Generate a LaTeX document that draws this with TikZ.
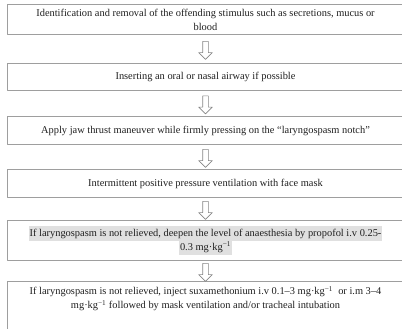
\documentclass[tikz,border=0pt]{standalone}
\usepackage{fontspec}
\setmainfont{Liberation Serif}
\usetikzlibrary{shapes.arrows,calc}
\definecolor{boxline}{gray}{0.62}
\definecolor{hlgray}{gray}{0.88}
\definecolor{txt}{gray}{0.12}
\newcommand{\hl}[1]{{\setlength{\fboxsep}{0.6pt}\colorbox{hlgray}{\strut #1}}}
\begin{document}
\begin{tikzpicture}[x=1pt,y=-1pt,line join=round,
	font=\fontsize{10.4}{14}\selectfont,text=txt,
	stepbox/.style={draw=boxline,line width=1pt,anchor=north west,minimum width=396pt,inner sep=0pt,align=center},
	downarr/.style={draw=boxline!85!black,line width=0.6pt,single arrow,shape border rotate=270,minimum height=18pt,minimum width=13pt,single arrow head extend=4pt,inner sep=2.5pt}]
	\useasboundingbox (0,0) rectangle (402,329);
	\node[stepbox,minimum height=30pt] (s1) at (7,4) {Identification and removal of the offending stimulus such as secretions, mucus or\\blood};
	\node[stepbox,minimum height=27pt] (s2) at (7,63) {Inserting an oral or nasal airway if possible};
	\node[stepbox,minimum height=28pt] (s3) at (7,116) {Apply jaw thrust maneuver while firmly pressing on the “laryngospasm notch”};
	\node[stepbox,minimum height=28pt] (s4) at (7,169) {Intermittent positive pressure ventilation with face mask};
	\node[stepbox,minimum height=40pt] (s5) at (7,220) {\hl{If laryngospasm is not relieved, deepen the level of anaesthesia by propofol i.v 0.25-}\\[-2.5pt]\hl{0.3 mg·kg\textsuperscript{−1}}};
	\node[stepbox,inner ysep=5pt] (s6) at (7,281) {If laryngospasm is not relieved, inject suxamethonium i.v 0.1–3 mg·kg\textsuperscript{−1}\ \ or i.m 3–4\\mg·kg\textsuperscript{−1} followed by mask ventilation and/or tracheal intubation\\[24pt]~};
	% block arrows between the steps
	\foreach \a/\b in {s1/s2,s2/s3,s3/s4,s4/s5,s5/s6}
		\node[downarr] (arr-\a) at ($(\a.south)!0.5!(\b.north)$) {};
\end{tikzpicture}
\end{document}
